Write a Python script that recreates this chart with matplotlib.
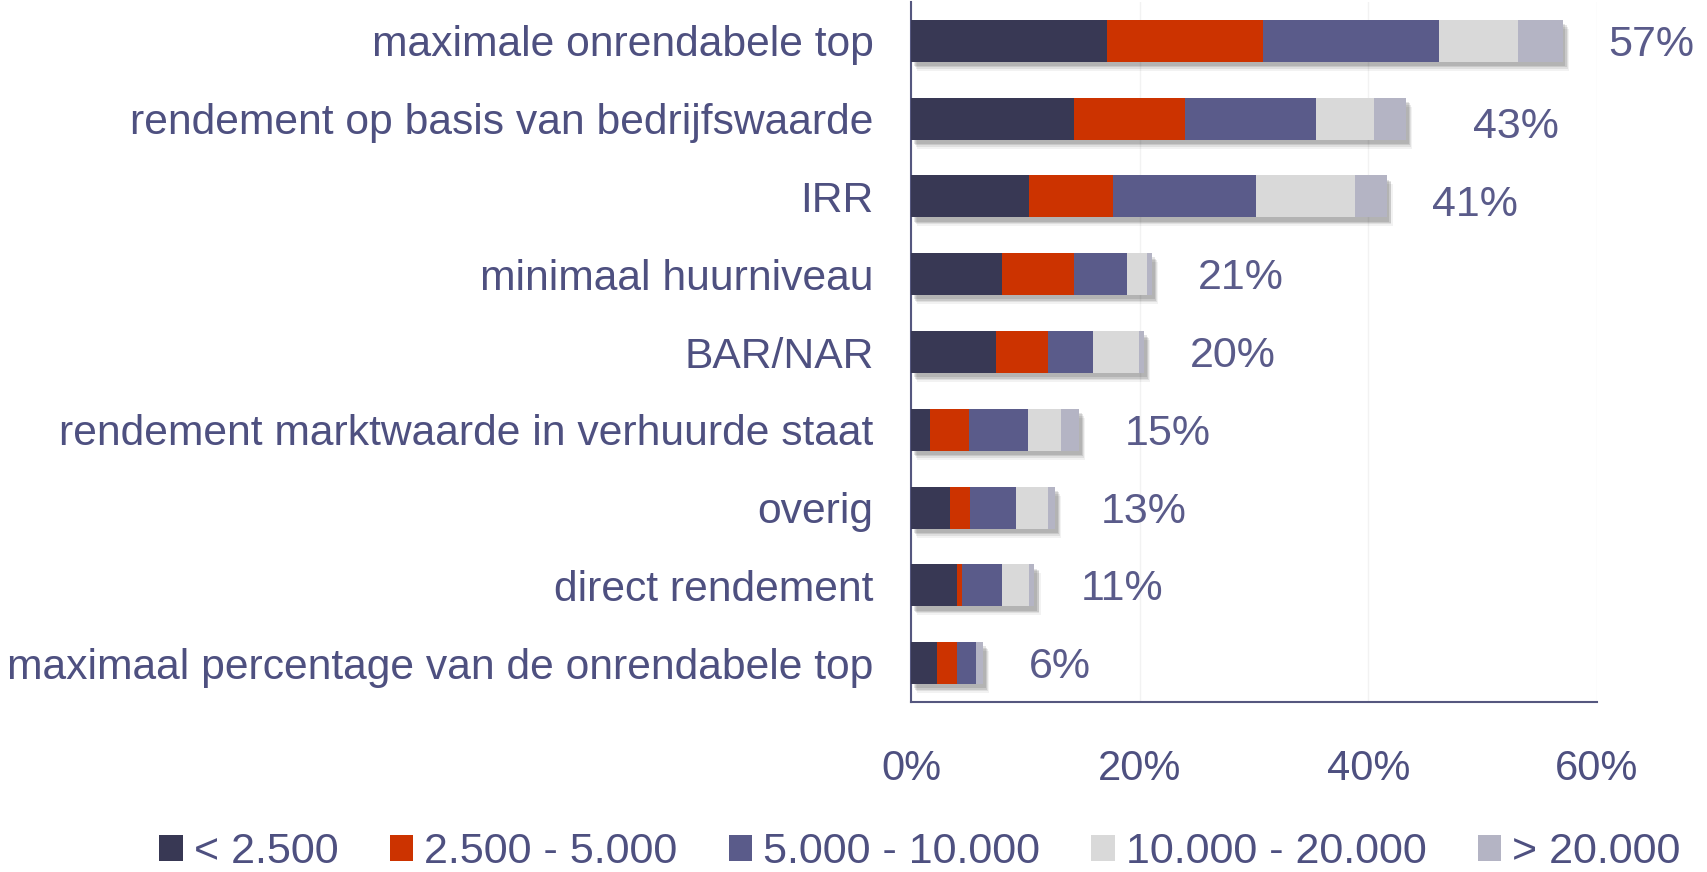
import matplotlib
matplotlib.use("Agg")
import matplotlib.pyplot as plt
import matplotlib.patheffects as pe
from matplotlib.patches import Patch
import numpy as np

plt.rcParams['font.family'] = ['Liberation Sans', 'DejaVu Sans']

categories = [
    "maximale onrendabele top",
    "rendement op basis van bedrijfswaarde",
    "IRR",
    "minimaal huurniveau",
    "BAR/NAR",
    "rendement marktwaarde in verhuurde staat",
    "overig",
    "direct rendement",
    "maximaal percentage van de onrendabele top",
]
series_names = ["< 2.500", "2.500 - 5.000", "5.000 - 10.000", "10.000 - 20.000", "> 20.000"]
s_lt2500 = [17.1, 14.3, 10.3, 8.0, 7.4, 1.7, 3.4, 4.0, 2.3]
s_2500_5000 = [13.7, 9.7, 7.4, 6.25, 4.6, 3.4, 1.8, 0.5, 1.7]
s_5000_10000 = [15.4, 11.4, 12.5, 4.6, 3.9, 5.1, 4.0, 3.5, 1.7]
s_10000_20000 = [6.85, 5.1, 8.6, 1.75, 4.0, 2.9, 2.8, 2.3, 0.0]
s_gt20000 = [3.95, 2.8, 2.8, 0.5, 0.5, 1.6, 0.6, 0.5, 0.6]
total_labels = ["57%", "43%", "41%", "21%", "20%", "15%", "13%", "11%", "6%"]
x_ticks = [0, 20, 40, 60]
x_ticklabels = ["0%", "20%", "40%", "60%"]

colors = ["#383854", "#CC3300", "#5A5B8A", "#D9D9D9", "#B4B4C4"]
text_color = "#4E5080"

W, H = 1707, 872
fig = plt.figure(figsize=(W / 100, H / 100), dpi=100)
ax = fig.add_axes([911 / W, 1 - 702 / H, (1597 - 911) / W, 700 / H])

series = [s_lt2500, s_2500_5000, s_5000_10000, s_10000_20000, s_gt20000]
y = np.arange(len(categories))
left = np.zeros(len(categories))
shadow = [
    pe.SimplePatchShadow(offset=(4.5, -6.5), shadow_rgbFace='black', alpha=0.05),
    pe.SimplePatchShadow(offset=(3.5, -5), shadow_rgbFace='black', alpha=0.08),
    pe.SimplePatchShadow(offset=(3, -4), shadow_rgbFace='black', alpha=0.10),
    pe.SimplePatchShadow(offset=(2, -3), shadow_rgbFace='black', alpha=0.10),
    pe.Normal(),
]
for vals, c, name in zip(series, colors, series_names):
    vals = np.array(vals)
    bars = ax.barh(y, vals, left=left, height=0.54, color=c, label=name, zorder=3)
    for b in bars:
        b.set_path_effects(shadow)
    left = left + vals

for i, (yi, tot, lab) in enumerate(zip(y, left, total_labels)):
    dx = 48 if i == 1 else 33
    dy = -6 if i in (1, 2) else -3
    ax.annotate(lab, xy=(tot, yi), xytext=(dx, dy), textcoords='offset points',
                ha='left', va='center', fontsize=31, color="#5A5B8A")

ax.set_xlim(0, 60)
ax.set_ylim(len(categories) - 0.5, -0.5)
ax.set_yticks(y)
ax.set_yticklabels(categories, fontsize=30.7, color=text_color)
ax.set_xticks(x_ticks)
ax.set_xticklabels(x_ticklabels, fontsize=30, color=text_color)
ax.tick_params(axis='both', length=0)
ax.tick_params(axis='y', pad=27)
ax.tick_params(axis='x', pad=34)
ax.xaxis.grid(True, color="#F2F2F2", linewidth=1, zorder=0)
ax.set_axisbelow(True)
for s in ['top', 'right']:
    ax.spines[s].set_visible(False)
for s in ['left', 'bottom']:
    ax.spines[s].set_color("#55577F")
    ax.spines[s].set_linewidth(1.5)

handles = [Patch(facecolor=c, edgecolor='none') for c in colors]
fig.legend(handles, series_names, loc='center', bbox_to_anchor=(920 / W, 1 - 852 / H),
           ncol=5, frameon=False, fontsize=31, handlelength=0.55, handleheight=0.55,
           handletextpad=0.25, columnspacing=1.19, labelcolor=text_color,
           borderaxespad=0)

fig.savefig("out.png", dpi=100)
